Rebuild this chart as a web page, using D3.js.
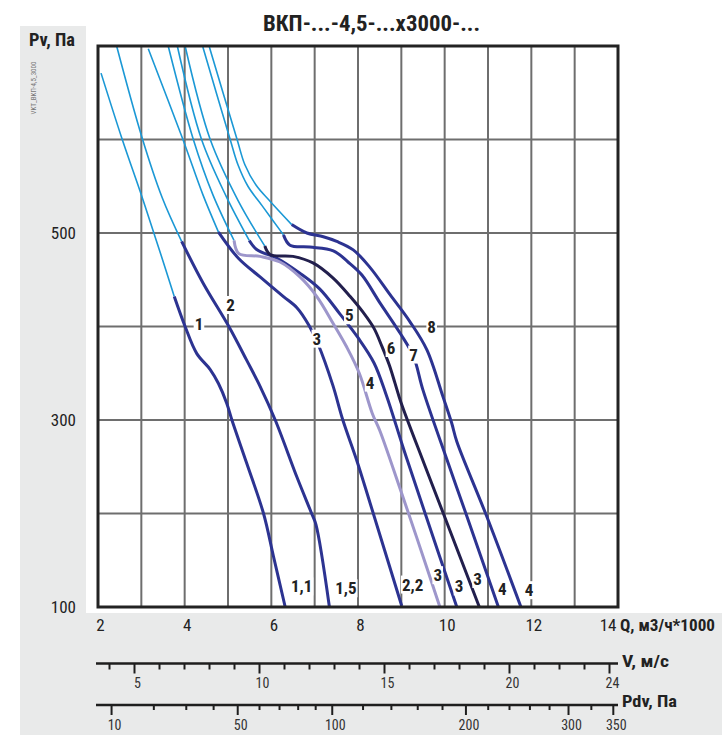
<!DOCTYPE html>
<html><head><meta charset="utf-8">
<script src="https://cdn.jsdelivr.net/npm/d3@7"></script>
<style>body{margin:0;background:#fff}svg{display:block}</style>
</head><body><svg id="c" width="722" height="735"></svg>
<script>
// ---------- data ----------
const qTicks=[2,4,6,8,10,12,14];
const qGrid=[3,4,5,6,7,8,9,10,11,12,13];
const pTicks=[100,300,500];
const pGrid=[200,300,400,500,600];
const vMajor=[5,10,15,20,24];
const vMinor=[4,6,7,8,9,11,12,13,14,16,17,18,19,21,22,23];
const pdvMajor=[10,50,100,200,300,350];
const pdvMinor=[20,30,40,60,70,80,90,120,140,160,180,220,240,260,280,325];
const curveNames=["1","2","3","4","5","6","7","8"];
const powerLabels=["1,1","1,5","2,2","3","3","3","4","4"];
// upper (light) parts of curves: Q (m3/h*1000), Pv (Pa)
const lightQ=[
 [2.07,2.56,3.02,3.43,3.76],
 [2.43,3.01,3.48,3.93],
 [3.16,3.96,4.42,4.78],
 [3.62,4.20,4.65,5.14],
 [3.83,4.39,4.95,5.49],
 [4.01,4.59,5.23,5.85],
 [4.42,5.05,5.23,5.46,5.79,6.28],
 [4.57,5.21,5.39,5.65,5.97,6.47]];
const lightP=[
 [671,600,538,480,432],
 [700,603,538,491],
 [697,600,541,501],
 [700,600,541,492],
 [700,600,540,492],
 [700,600,535,486],
 [699,600,573,550,529,498],
 [699,600,573,551,534,509]];
// working parts of curves
const workQ=[
 [3.76,4.01,4.28,4.59,4.78,4.97,5.09,5.43,5.82,6.05,6.32],
 [3.93,4.43,5.02,5.43,5.74,6.09,6.59,6.93,7.03,7.34],
 [4.78,5.24,5.74,6.28,6.59,6.87,7.08,7.42,7.65,7.97,8.28,9.01],
 [5.14,5.25,5.74,6.20,6.66,7.05,7.43,7.74,8.03,8.33,8.50,8.96,9.35,9.89],
 [5.49,5.67,6.13,6.66,7.12,7.59,8.00,8.37,8.65,9.06,9.55,10.28],
 [5.85,5.97,6.50,6.96,7.42,7.82,8.12,8.37,8.55,8.72,8.85,8.99,9.52,9.97,10.80],
 [6.28,6.43,6.89,7.43,7.77,8.09,8.51,8.97,9.28,9.50,10.08,10.49,11.24],
 [6.47,6.82,7.20,7.51,7.89,8.28,8.74,9.20,9.59,9.96,10.16,10.28,10.97,11.76]];
const workP=[
 [432,400,371,354,339,318,300,254,200,154,100],
 [491,446,400,364,336,300,239,200,188,100],
 [501,473,453,432,420,401,381,337,300,257,211,101],
 [492,478,475,469,453,432,403,378,350,307,289,228,175,100],
 [492,482,473,457,440,413,388,361,327,268,200,100],
 [486,477,475,468,452,432,415,398,379,359,340,319,254,200,100],
 [498,487,485,481,469,455,425,393,368,332,254,200,100],
 [509,500,496,491,482,463,434,405,375,325,297,277,197,100]];
// label anchor points (data units)
const nameQ=[4.33,5.06,7.05,8.28,7.80,8.76,9.28,9.70];
const nameP=[403,423,387,340,412,377,370,400];
const powerQ=[6.70,7.72,9.26,9.84,10.33,10.76,11.33,11.95];
const powerP=[122,120,124,134,122,130,119,118];

// ---------- drawing ----------
const FONT="'Liberation Sans Narrow','Arial Narrow','Roboto Condensed','Liberation Sans',Arial,sans-serif";
const svg=d3.select("#c");
const x=d3.scaleLinear().domain([2,14]).range([98,618]);
const y=d3.scaleLinear().domain([100,700]).range([607,46]);
const xv=d3.scaleLinear().domain([5,24]).range([134,609]);
const xpdv=d3.scaleSqrt().domain([0,350]).range([xv(0),xv(Math.sqrt(350/0.6))]);

const gray="#e9eaea";
svg.append("rect").attr("x",20).attr("y",26).attr("width",66).attr("height",709).attr("fill",gray);
svg.append("rect").attr("x",20).attr("y",613).attr("width",702).attr("height",122).attr("fill",gray);

// grid
const g=svg.append("g");
g.selectAll(".vg").data(qGrid).join("line")
 .attr("x1",d=>x(d)).attr("x2",d=>x(d)).attr("y1",y(700)).attr("y2",y(100))
 .attr("stroke","#6e6e6e").attr("stroke-width",2);
g.selectAll(".hg").data(pGrid).join("line")
 .attr("y1",d=>y(d)).attr("y2",d=>y(d)).attr("x1",x(2)).attr("x2",x(14))
 .attr("stroke","#6e6e6e").attr("stroke-width",2);

// curves
const line=d3.line().x(d=>x(d[0])).y(d=>y(d[1])).curve(d3.curveCatmullRom.alpha(0.5));
const zip=(a,b)=>a.map((v,i)=>[v,b[i]]);
const lightColor="#1b98d5";
const darkColors=["#2c3391","#2c3391","#2c3391","#9d96cb","#2c3391","#221f4d","#2c3391","#2c3391"];
lightQ.forEach((qs,i)=>{
  svg.append("path").attr("d",line(zip(qs,lightP[i]))).attr("fill","none")
   .attr("stroke",lightColor).attr("stroke-width",1.6);
});
const order=[0,1,2,4,6,7,3,5];
order.forEach(i=>{
  svg.append("path").attr("d",line(zip(workQ[i],workP[i]))).attr("fill","none")
   .attr("stroke",darkColors[i]).attr("stroke-width",3).attr("stroke-linejoin","round");
});

// frame
svg.append("rect").attr("x",x(2)).attr("y",y(700)).attr("width",x(14)-x(2)).attr("height",y(100)-y(700))
 .attr("fill","none").attr("stroke","#232323").attr("stroke-width",3);

// labels with white background
function boxed(tx,ty,txt,size){
  const gg=svg.append("g");
  const r=gg.append("rect").attr("fill","#fff");
  const t=gg.append("text").attr("x",tx).attr("y",ty).attr("text-anchor","middle")
   .attr("dominant-baseline","central").attr("font-family",FONT).attr("font-weight","bold")
   .attr("font-size",size).attr("fill","#222").text(txt);
  const b=t.node().getBBox();
  r.attr("x",b.x-1).attr("y",b.y+1).attr("width",b.width+2).attr("height",b.height-2);
}
curveNames.forEach((n,i)=>boxed(x(nameQ[i]),y(nameP[i]),n,17));
powerLabels.forEach((n,i)=>boxed(x(powerQ[i]),y(powerP[i]),n,17));

// title and axis titles
function txt(xx,yy,s,opt){
  const t=svg.append("text").attr("x",xx).attr("y",yy).attr("font-family",FONT)
   .attr("font-size",opt.size).attr("font-weight",opt.bold?"bold":"normal")
   .attr("fill",opt.fill||"#222").attr("text-anchor",opt.anchor||"start").text(s);
  if(opt.len) t.attr("textLength",opt.len).attr("lengthAdjust","spacingAndGlyphs");
  return t;
}
txt(263,31,"ВКП-...-4,5-...х3000-...",{size:22,bold:true,len:217});
txt(29,46,"Pv, Па",{size:18,bold:true,len:46});
txt(0,0,"VKT_ВКП-4,5_3000",{size:7,fill:"#777",anchor:"middle",len:53})
 .attr("transform","translate(36,88) rotate(-90)");

// y tick labels
const yAxis=d3.axisLeft(y).tickValues(pTicks).tickSize(0).tickPadding(0);
const ya=svg.append("g").attr("transform","translate(76,0)").call(yAxis);
ya.select(".domain").remove();
ya.selectAll("text").attr("font-family",FONT).attr("font-size",17).attr("fill","#222").attr("dy","0.32em");

// x tick labels
const xAxis=d3.axisBottom(x).tickValues(qTicks).tickSize(0).tickPadding(0);
const xa=svg.append("g").attr("transform","translate(2,619)").call(xAxis);
xa.select(".domain").remove();
xa.selectAll("text").attr("font-family",FONT).attr("font-size",17).attr("fill","#222")
 .attr("text-anchor",d=>d===14?"end":"middle").attr("dx",d=>d===14?"-4":null);
txt(620,631,"Q, м3/ч*1000",{size:17,bold:true,len:95});

// V axis
const vY=663.5;
svg.append("line").attr("x1",96).attr("x2",618).attr("y1",vY).attr("y2",vY).attr("stroke","#1e1e1e").attr("stroke-width",2.5);
const va1=svg.append("g").attr("transform",`translate(0,${vY})`)
 .call(d3.axisBottom(xv).tickValues(vMinor).tickSize(6).tickFormat(""));
va1.select(".domain").remove();
const va2=svg.append("g").attr("transform",`translate(0,${vY})`)
 .call(d3.axisBottom(xv).tickValues(vMajor).tickSize(10).tickPadding(5));
va2.select(".domain").remove();
[va1,va2].forEach(a=>a.selectAll("line").attr("stroke","#1e1e1e").attr("stroke-width",2));
va2.selectAll("text").attr("font-family",FONT).attr("font-size",14).attr("fill","#333").attr("dx",3);
txt(622,667,"V, м/с",{size:17,bold:true,len:47});

// Pdv axis
const pY=705;
svg.append("line").attr("x1",96).attr("x2",618).attr("y1",pY).attr("y2",pY).attr("stroke","#1e1e1e").attr("stroke-width",2.5);
const pa1=svg.append("g").attr("transform",`translate(0,${pY})`)
 .call(d3.axisBottom(xpdv).tickValues(pdvMinor).tickSize(5).tickFormat(""));
pa1.select(".domain").remove();
const pa2=svg.append("g").attr("transform",`translate(0,${pY})`)
 .call(d3.axisBottom(xpdv).tickValues(pdvMajor).tickSize(10).tickPadding(5));
pa2.select(".domain").remove();
[pa1,pa2].forEach(a=>a.selectAll("line").attr("stroke","#1e1e1e").attr("stroke-width",2));
pa2.selectAll("text").attr("font-family",FONT).attr("font-size",14).attr("fill","#333").attr("dx",3);
txt(622,707,"Pdv, Па",{size:17,bold:true,len:55});
</script></body></html>
